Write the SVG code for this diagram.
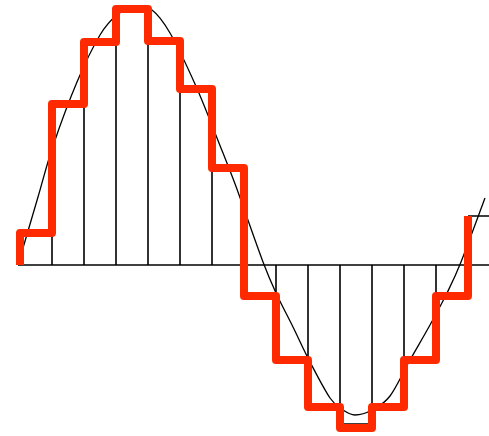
<svg xmlns="http://www.w3.org/2000/svg" width="489" height="436" viewBox="0 0 489 436">
<style>
.ax{stroke:#000;stroke-width:1.6;fill:none}
.smp{stroke:#000;stroke-width:1.6;fill:none}
.hold{stroke:#ff2a00;stroke-width:8;fill:none;stroke-linejoin:round;stroke-linecap:butt}
.sig{stroke:#000;stroke-width:1.3;fill:none}
</style>
<rect width="489" height="436" fill="#fff"/>
<g id="axis"><path class="ax" d="M18,265 H489"/></g>
<g id="samples">
<path class="smp" d="M52,265 V233 M84,265 V104 M116,265 V42 M148,265 V41 M180,265 V89 M212,265 V168 M276,265 V296 M308,265 V360 M340,265 V424 H372 M372,265 V424 M404,265 V360 M436,265 V296 M468,216 H489"/>
</g>
<g id="signal">
<path class="sig" d="M18,265 C21.33,253.67 32.17,216.83 38,197 C43.83,177.17 46.5,165.17 53,146 C59.5,126.83 69.17,100.5 77,82 C84.83,63.5 93.33,46.17 100,35 C106.67,23.83 111.17,19.67 117,15 C122.83,10.33 129.17,7.83 135,7 C140.83,6.17 146.17,5.67 152,10 C157.83,14.33 162.83,20.67 170,33 C177.17,45.33 187.17,66.5 195,84 C202.83,101.5 209.5,119 217,138 C224.5,157 231.5,174 238,192 C245.5,213 257,246.17 263,262 C269,277.83 271,282.17 276,293 C281,303.83 287.33,315.5 293,327 C298.67,338.5 303.83,350.17 310,362 C316.17,373.83 324.5,390 330,398 C335.5,406 338.83,407.17 343,410 C347.17,412.83 350.17,415 355,415 C359.830,415 366.17,413.17 372,410 C377.83,406.83 383.67,404.33 390,396 C396.33,387.67 403.33,371.83 410,360 C416.67,348.17 423.83,336.17 430,325 C436.17,313.83 441.83,303.5 447,293 C452.17,282.5 454.67,277.83 461,262 C467.33,246.17 481,208.67 485,198"/>
</g>
<g id="hold">
<path class="hold" d="M20,265 V233 H52 V104 H84 V42 H116 V9 H148 V41 H180 V89 H212 V168 H244 V296 H276 V360 H308 V407 H340 V428 H372 V407 H404 V360 H436 V296 H468 V216"/>
</g>
</svg>
